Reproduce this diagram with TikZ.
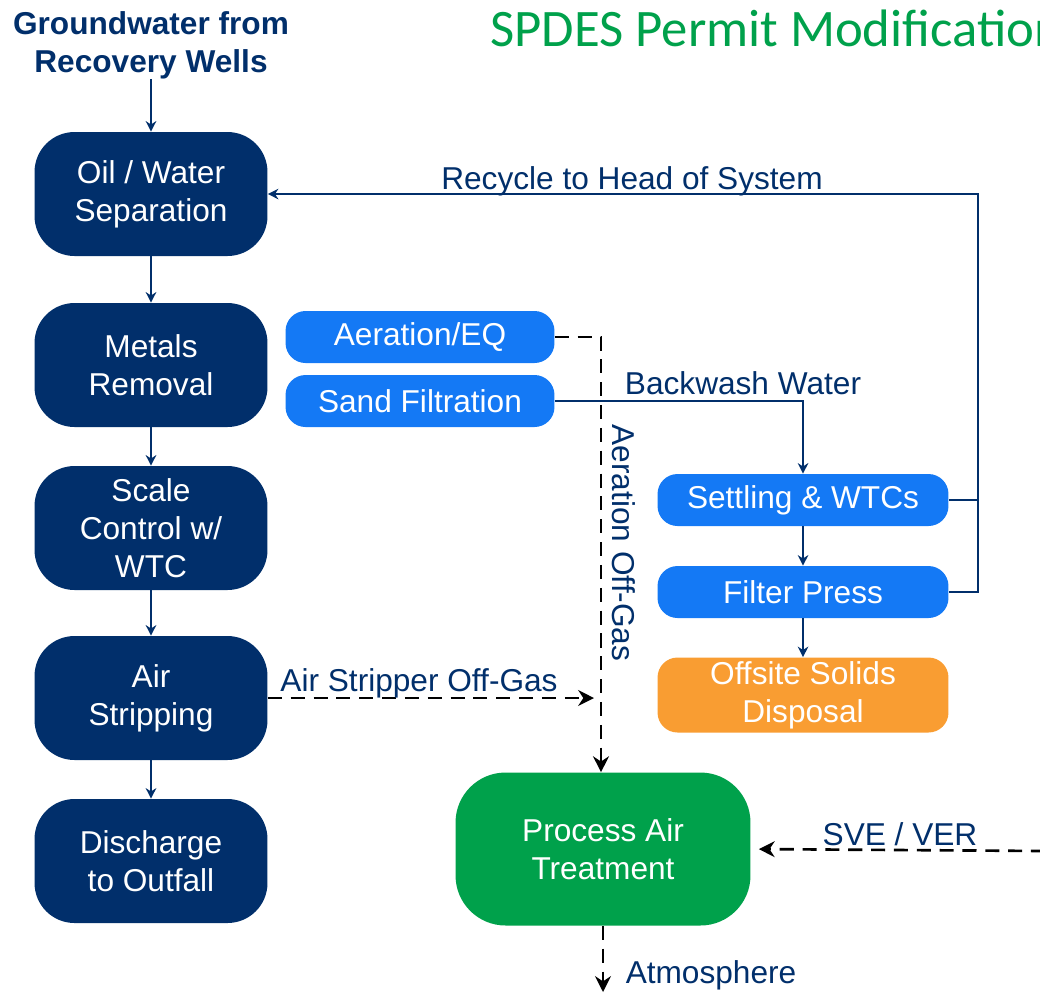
\documentclass[tikz,border=0pt]{standalone}
\usepackage{fontspec}
\setmainfont{Liberation Sans}
\newfontfamily\titlefont{Carlito}
\usetikzlibrary{calc, arrows.meta}

\definecolor{navy}{RGB}{1,47,107}
\definecolor{skyblue}{RGB}{20,121,245}
\definecolor{solidorange}{RGB}{249,157,50}
\definecolor{airgreen}{RGB}{0,161,75}

\tikzset{
    unit/.style={rounded corners=0.8cm, fill=navy, text=white, align=center,
        minimum width=4.66cm, minimum height=2.48cm, inner sep=0pt},
    side/.style={rounded corners=0.4cm, fill=skyblue, text=white, align=center,
        minimum height=1.04cm, inner sep=0pt},
    lbl/.style={text=navy, inner sep=0pt},
    flow/.style={-{Stealth[length=6pt, width=6pt]}, draw=navy, line width=1.1pt},
    gas/.style={-{Stealth[length=9pt, width=9pt]}, draw=black, line width=1.5pt,
        dash pattern=on 8pt off 5pt}
}

\begin{document}
\begin{tikzpicture}[x=0.02cm, y=-0.02cm, font=\fontsize{18}{21.5}\selectfont]
    \useasboundingbox (0, 0) rectangle (1040, 992);

    \node[anchor=base west, inner sep=0pt, text=airgreen,
        font=\titlefont\fontsize{30}{36}\selectfont] (title) at (490, 46) {SPDES Permit Modification};
    \node[lbl, align=center, font=\bfseries\fontsize{18}{21.5}\selectfont] (source) at (151, 45)
        {Groundwater from\\Recovery Wells};

    % main treatment train
    \node[unit] (sep) at (151, 194) {Oil / Water\\Separation};
    \node[unit] (metals) at (151, 365) {Metals\\Removal};
    \node[unit] (scale) at (151, 528) {Scale\\Control w/\\WTC};
    \node[unit] (strip) at (151, 698) {Air\\Stripping};
    \node[unit] (outfall) at (151, 861) {Discharge\\to Outfall};

    % side units
    \node[side, minimum width=5.38cm] (aer) at (420, 337) {Aeration/EQ};
    \node[side, minimum width=5.38cm] (sand) at (420, 401) {Sand Filtration};
    \node[side, minimum width=5.82cm] (settle) at (803, 500) {Settling \& WTCs};
    \node[side, minimum width=5.82cm] (press) at (803, 592) {Filter Press};
    \node[side, minimum width=5.82cm, minimum height=1.5cm, fill=solidorange] (solids) at (803, 695)
        {Offsite Solids\\Disposal};
    \node[rounded corners=1cm, fill=airgreen, text=white, align=center, inner sep=0pt,
        minimum width=5.9cm, minimum height=3.06cm] (pat) at (603, 849) {Process Air\\Treatment};

    \coordinate (rtop) at (978, 194);
    \coordinate (stripend) at (594, 700);
    \coordinate (sve) at (1045, 851);
    \coordinate (atm) at (603, 992);

    \draw[flow] (source) -- (sep);
    \draw[flow] (sep) -- (metals);
    \draw[flow] (metals) -- (scale);
    \draw[flow] (scale) -- (strip);
    \draw[flow] (strip) -- (outfall);

    \draw[flow] (settle.east) -- (settle.east -| rtop) -- (rtop) -- (sep.east);
    \draw[navy, line width=1.1pt] (press.east) -- (press.east -| rtop) -- (settle.east -| rtop);
    \draw[flow] (sand.east) -| (settle.north);
    \draw[flow] (settle) -- (press);
    \draw[flow] (press) -- (solids);

    \draw[gas] (aer.east) -| ($(pat.north) + (-2, 0)$);
    \draw[gas] (strip.east) -- (strip.east -| stripend);
    \draw[gas, shorten >=0.16cm] (sve) -- (pat.east);
    \draw[gas] (pat.south) -- (atm);

    \node[lbl] (recycle) at (632, 181) {Recycle to Head of System};
    \node[lbl] (backwash) at (743, 383) {Backwash Water};
    \node[lbl, rotate=-90] (aergas) at (624, 543) {Aeration Off-Gas};
    \node[lbl] (stripgas) at (419, 683) {Air Stripper Off-Gas};
    \node[lbl] (svever) at (900, 834) {SVE / VER};
    \node[lbl] (atmos) at (711, 975) {Atmosphere};
\end{tikzpicture}
\end{document}
